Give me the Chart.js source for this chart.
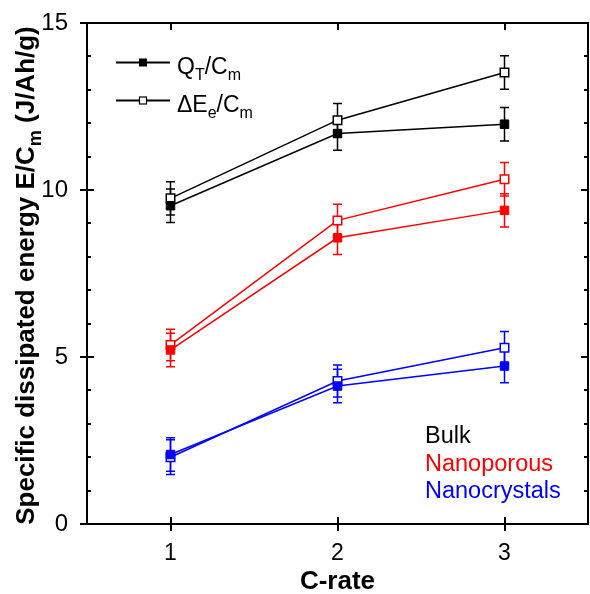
<!DOCTYPE html>
<html>
<head>
<meta charset="utf-8">
<script src="https://cdn.jsdelivr.net/npm/chart.js@4/dist/chart.umd.min.js"></script>
<style>
  html, body { margin: 0; padding: 0; background: #fff; }
  #wrap { width: 590px; height: 594px; }
</style>
</head>
<body>
<div id="wrap"><canvas id="chart" width="590" height="594"></canvas></div>
<script>
// C-rate values (x) and tick labels
const cRate = [1, 2, 3];
const xTicks = [1, 2, 3];
const yTicks = [0, 5, 10, 15];

// Specific dissipated energy, Q_T/C_m (filled) and ΔE_e/C_m (open)
const bulkQT = [9.53, 11.69, 11.97];
const bulkDE = [9.75, 12.09, 13.52];
const porousQT = [5.21, 8.57, 9.39];
const porousDE = [5.36, 9.09, 10.32];
const crystQT = [2.08, 4.13, 4.73];
const crystDE = [2.0, 4.28, 5.28];

// error bar half-heights
const bulkQTErr = [0.5, 0.5, 0.5];
const bulkDEErr = [0.5, 0.5, 0.5];
const porousQTErr = [0.5, 0.5, 0.5];
const porousDEErr = [0.47, 0.48, 0.5];
const crystQTErr = [0.5, 0.5, 0.5];
const crystDEErr = [0.52, 0.48, 0.48];

const materials = ['Bulk', 'Nanoporous', 'Nanocrystals'];
const matColors = ['#000000', '#ff0000', '#0000ff'];

const FONT = '"Liberation Sans", Arial, Helvetica, sans-serif';

function pts(vals) {
    return cRate.map((x, i) => ({ x: x, y: vals[i] }));
}

function makeSet(label, vals, errs, color, open) {
    return {
        label: label,
        data: pts(vals),
        errors: errs,
        borderColor: color,
        borderWidth: 1.5,
        pointStyle: 'rect',
        pointRadius: 6,
        pointHoverRadius: 6,
        pointBorderWidth: open ? 1.5 : 1,
        pointBackgroundColor: open ? '#ffffff' : color,
        pointBorderColor: color,
        fill: false,
        tension: 0
    };
}

const datasets = [
    makeSet('Bulk QT', bulkQT, bulkQTErr, matColors[0], false),
    makeSet('Bulk dE', bulkDE, bulkDEErr, matColors[0], true),
    makeSet('Nanoporous QT', porousQT, porousQTErr, matColors[1], false),
    makeSet('Nanoporous dE', porousDE, porousDEErr, matColors[1], true),
    makeSet('Nanocrystals QT', crystQT, crystQTErr, matColors[2], false),
    makeSet('Nanocrystals dE', crystDE, crystDEErr, matColors[2], true)
];

// error bars drawn under the markers
const errorBars = {
    id: 'errorBars',
    beforeDatasetsDraw(chart) {
        const ctx = chart.ctx;
        const y = chart.scales.y;
        ctx.save();
        chart.data.datasets.forEach((ds, di) => {
            const meta = chart.getDatasetMeta(di);
            ctx.strokeStyle = ds.borderColor;
            ctx.lineWidth = 1.5;
            meta.data.forEach((pt, i) => {
                const v = ds.data[i].y;
                const e = ds.errors[i];
                const top = y.getPixelForValue(v + e);
                const bot = y.getPixelForValue(v - e);
                ctx.beginPath();
                ctx.moveTo(pt.x, top);
                ctx.lineTo(pt.x, bot);
                ctx.moveTo(pt.x - 4.5, top);
                ctx.lineTo(pt.x + 4.5, top);
                ctx.moveTo(pt.x - 4.5, bot);
                ctx.lineTo(pt.x + 4.5, bot);
                ctx.stroke();
            });
        });
        ctx.restore();
    }
};

// draw text with a subscript part: parts = [[text, isSub], ...]
function drawRich(ctx, parts, x, y, size, weight) {
    let cx = x;
    parts.forEach(p => {
        const sub = p[1];
        const fs = sub ? Math.round(size * 0.68) : size;
        ctx.font = weight + ' ' + fs + 'px ' + FONT;
        ctx.fillText(p[0], cx, sub ? y + size * 0.28 : y);
        cx += ctx.measureText(p[0]).width;
    });
    return cx - x;
}

function richWidth(ctx, parts, size, weight) {
    let w = 0;
    parts.forEach(p => {
        const fs = p[1] ? Math.round(size * 0.68) : size;
        ctx.font = weight + ' ' + fs + 'px ' + FONT;
        w += ctx.measureText(p[0]).width;
    });
    return w;
}

// frame, ticks, legend, axis titles
const decorations = {
    id: 'decorations',
    afterDraw(chart) {
        const ctx = chart.ctx;
        const a = chart.chartArea;
        const xs = chart.scales.x;
        const ys = chart.scales.y;
        ctx.save();
        ctx.strokeStyle = '#000';
        ctx.fillStyle = '#000';

        // frame
        ctx.lineWidth = 2;
        ctx.strokeRect(a.left, a.top, a.right - a.left, a.bottom - a.top);

        // x ticks
        ctx.beginPath();
        xTicks.forEach(v => {
            const px = Math.round(xs.getPixelForValue(v));
            ctx.moveTo(px, a.bottom - 7);
            ctx.lineTo(px, a.bottom + 7);
            ctx.moveTo(px, a.top);
            ctx.lineTo(px, a.top + 7);
        });
        // y major ticks
        yTicks.forEach(v => {
            const py = Math.round(ys.getPixelForValue(v));
            ctx.moveTo(a.left - 7, py);
            ctx.lineTo(a.left + 7, py);
            ctx.moveTo(a.right, py);
            ctx.lineTo(a.right - 7, py);
        });
        ctx.stroke();
        // y minor ticks
        ctx.beginPath();
        for (let v = 1; v < 15; v++) {
            if (v % 5 === 0) continue;
            const py = Math.round(ys.getPixelForValue(v));
            ctx.moveTo(a.left, py);
            ctx.lineTo(a.left + 4, py);
            ctx.moveTo(a.right, py);
            ctx.lineTo(a.right - 4, py);
        }
        ctx.stroke();

        // legend for marker styles
        const rows = [
            { y: 62.5, open: false, parts: [['Q', false], ['T', true], ['/C', false], ['m', true]] },
            { y: 100.5, open: true, parts: [['\u0394E', false], ['e', true], ['/C', false], ['m', true]] }
        ];
        rows.forEach(r => {
            ctx.lineWidth = 2;
            ctx.beginPath();
            ctx.moveTo(116, r.y);
            ctx.lineTo(170, r.y);
            ctx.stroke();
            if (r.open) {
                ctx.fillStyle = '#fff';
                ctx.fillRect(139, r.y - 4, 8, 8);
                ctx.lineWidth = 1.2;
                ctx.strokeRect(139.5, r.y - 3.5, 7, 7);
            } else {
                ctx.fillStyle = '#000';
                ctx.fillRect(139, r.y - 4, 8, 8);
            }
            ctx.fillStyle = '#000';
            ctx.textBaseline = 'alphabetic';
            ctx.textAlign = 'left';
            drawRich(ctx, r.parts, 177, r.y + 11, 23, 'normal');
        });

        // material colour key
        ctx.font = '23.5px ' + FONT;
        ctx.textAlign = 'left';
        const baselines = [443, 471, 498];
        materials.forEach((m, i) => {
            ctx.fillStyle = matColors[i];
            ctx.fillText(m, 425, baselines[i]);
        });

        // y axis title
        ctx.fillStyle = '#000';
        const yParts = [['Specific dissipated energy E/C', false], ['m', true], [' (J/Ah/g)', false]];
        const w = richWidth(ctx, yParts, 26, 'bold');
        ctx.save();
        ctx.translate(34, (a.top + a.bottom) / 2 + 2);
        ctx.rotate(-Math.PI / 2);
        drawRich(ctx, yParts, -w / 2, 0, 26, 'bold');
        ctx.restore();

        // x axis title
        ctx.font = 'bold 26px ' + FONT;
        ctx.textAlign = 'center';
        ctx.fillText('C-rate', (a.left + a.right) / 2, 589);

        ctx.restore();
    }
};

new Chart(document.getElementById('chart'), {
    type: 'line',
    data: { datasets: datasets },
    options: {
        responsive: false,
        animation: false,
        events: [],
        layout: { autoPadding: false, padding: { top: 23, right: 2, left: 0, bottom: 0 } },
        plugins: {
            legend: { display: false },
            tooltip: { enabled: false }
        },
        scales: {
            x: {
                type: 'linear',
                min: 0.5,
                max: 3.5,
                afterBuildTicks: function(scale) {
                    scale.ticks = xTicks.map(v => ({ value: v }));
                },
                afterFit: function(scale) {
                    scale.height = 70;
                    scale.paddingLeft = 0;
                    scale.paddingRight = 0;
                },
                grid: { display: false },
                border: { display: false },
                ticks: {
                    padding: 8,
                    color: '#000',
                    font: { family: FONT, size: 23 }
                }
            },
            y: {
                type: 'linear',
                min: 0,
                max: 15,
                afterBuildTicks: function(scale) {
                    scale.ticks = yTicks.map(v => ({ value: v }));
                },
                afterFit: function(scale) {
                    scale.width = 87;
                    scale.paddingTop = 0;
                    scale.paddingBottom = 0;
                },
                grid: { display: false },
                border: { display: false },
                ticks: {
                    padding: 11,
                    color: '#000',
                    font: { family: FONT, size: 24 }
                }
            }
        }
    },
    plugins: [errorBars, decorations]
});
</script>
</body>
</html>
